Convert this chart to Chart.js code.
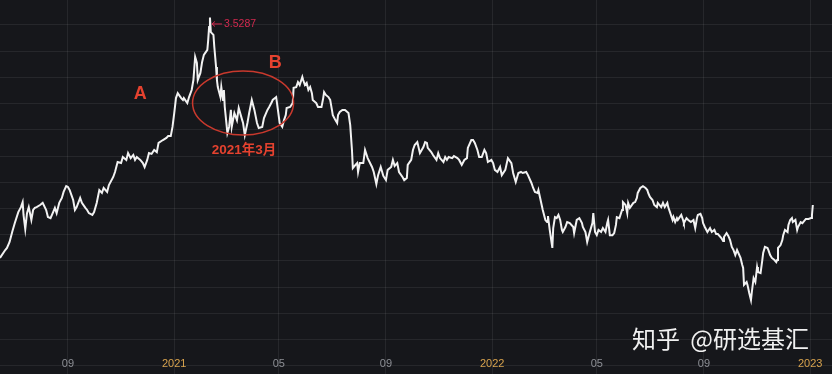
<!DOCTYPE html>
<html>
<head>
<meta charset="utf-8">
<script src="https://cdn.jsdelivr.net/npm/chart.js@4.4.1/dist/chart.umd.min.js"></script>
<style>
  html, body { margin: 0; padding: 0; background: #16171b; overflow: hidden; }
  #wrap { width: 832px; height: 374px; position: relative; }
  canvas { display: block; }
</style>
</head>
<body>
<div id="wrap"><canvas id="c" width="832" height="374"></canvas></div>
<script>
// ---------------- data ----------------
const dates2020 = ['2020-06-15','2020-06-21','2020-06-23','2020-06-26','2020-06-29',
  '2020-07-02','2020-07-06','2020-07-09','2020-07-11','2020-07-12','2020-07-14','2020-07-16','2020-07-18','2020-07-21','2020-07-23','2020-07-25','2020-07-27','2020-07-31',
  '2020-08-03','2020-08-07','2020-08-09','2020-08-12','2020-08-15','2020-08-17','2020-08-19','2020-08-22','2020-08-25','2020-08-27','2020-08-30',
  '2020-09-01','2020-09-03','2020-09-07','2020-09-09','2020-09-11','2020-09-15','2020-09-17','2020-09-21','2020-09-23','2020-09-25','2020-09-29',
  '2020-10-01','2020-10-04','2020-10-07','2020-10-10','2020-10-12','2020-10-16','2020-10-18','2020-10-23','2020-10-25','2020-10-28',
  '2020-11-01','2020-11-03','2020-11-07','2020-11-09','2020-11-12','2020-11-15','2020-11-17','2020-11-19','2020-11-23','2020-11-26','2020-11-28',
  '2020-12-01','2020-12-03','2020-12-06','2020-12-09','2020-12-12','2020-12-14','2020-12-19','2020-12-23','2020-12-25','2020-12-28','2020-12-30'];
const values2020 = [2.611,2.641,2.649,2.672,2.710,
  2.744,2.786,2.805,2.824,2.775,2.721,2.782,2.805,2.756,2.794,2.802,2.805,2.813,
  2.821,2.794,2.767,2.763,2.786,2.802,2.782,2.821,2.840,2.863,2.885,
  2.882,2.870,2.832,2.794,2.805,2.840,2.821,2.802,2.794,2.782,2.775,
  2.786,2.821,2.870,2.859,2.878,2.863,2.889,2.920,2.939,2.977,
  2.973,2.996,2.985,3.011,2.992,3.004,2.985,2.996,2.985,2.973,2.958,
  2.985,3.011,3.008,3.023,3.015,3.050,3.061,3.069,3.076,3.076,3.111];

const dates2021 = ['2021-01-01','2021-01-03','2021-01-05','2021-01-09','2021-01-11','2021-01-12','2021-01-16','2021-01-18','2021-01-21','2021-01-23','2021-01-25','2021-01-27','2021-01-28','2021-01-31',
  '2021-02-02','2021-02-04','2021-02-08','2021-02-09','2021-02-10','2021-02-11','2021-02-12','2021-02-15','2021-02-16','2021-02-18','2021-02-19','2021-02-20','2021-02-23','2021-02-24','2021-02-26','2021-02-27','2021-02-28',
  '2021-03-03','2021-03-05','2021-03-07','2021-03-08','2021-03-11','2021-03-14','2021-03-16','2021-03-20','2021-03-21','2021-03-23','2021-03-26','2021-03-28','2021-03-31',
  '2021-04-03','2021-04-06','2021-04-08','2021-04-12','2021-04-14','2021-04-18','2021-04-20','2021-04-23','2021-04-24','2021-04-28','2021-04-30',
  '2021-05-02','2021-05-05','2021-05-07','2021-05-09','2021-05-10','2021-05-14','2021-05-17','2021-05-18','2021-05-21','2021-05-23','2021-05-25','2021-05-28','2021-05-29','2021-05-31',
  '2021-06-02','2021-06-04','2021-06-06','2021-06-08','2021-06-09','2021-06-13','2021-06-15','2021-06-19','2021-06-21','2021-06-22','2021-06-24','2021-06-27','2021-06-29',
  '2021-07-01','2021-07-02','2021-07-05','2021-07-07','2021-07-08','2021-07-10','2021-07-13','2021-07-16','2021-07-20','2021-07-22','2021-07-24','2021-07-25','2021-07-28','2021-07-30','2021-07-31',
  '2021-08-02','2021-08-06','2021-08-08','2021-08-11','2021-08-16','2021-08-18','2021-08-21','2021-08-23','2021-08-26','2021-08-29',
  '2021-09-01','2021-09-03','2021-09-07','2021-09-09','2021-09-11','2021-09-14','2021-09-16','2021-09-20','2021-09-22','2021-09-25','2021-09-26','2021-09-30',
  '2021-10-02','2021-10-04','2021-10-07','2021-10-10','2021-10-14','2021-10-16','2021-10-18','2021-10-19','2021-10-23','2021-10-25','2021-10-29','2021-10-31',
  '2021-11-02','2021-11-06','2021-11-08','2021-11-10','2021-11-12','2021-11-16','2021-11-18','2021-11-22','2021-11-24','2021-11-27','2021-11-30',
  '2021-12-03','2021-12-04','2021-12-08','2021-12-10','2021-12-12','2021-12-15','2021-12-17','2021-12-20','2021-12-23','2021-12-25','2021-12-27','2021-12-31'];
const values2021 = [3.164,3.221,3.240,3.221,3.214,3.221,3.202,3.225,3.252,3.290,3.378,3.355,3.290,3.317,
  3.359,3.386,3.405,3.443,3.492,3.5287,3.473,3.462,3.416,3.340,3.290,3.263,3.225,3.263,3.214,3.252,3.187,
  3.088,3.111,3.176,3.111,3.164,3.137,3.183,3.137,3.126,3.080,3.126,3.164,3.214,
  3.176,3.126,3.107,3.111,3.145,3.176,3.187,3.206,3.214,3.225,3.176,
  3.126,3.111,3.137,3.156,3.183,3.187,3.202,3.260,3.263,3.282,3.271,3.302,3.290,3.271,
  3.279,3.252,3.263,3.240,3.214,3.202,3.187,3.187,3.221,3.244,3.233,3.225,3.214,
  3.176,3.156,3.137,3.126,3.156,3.168,3.176,3.176,3.164,3.118,3.023,2.954,2.966,2.973,2.939,
  2.973,2.973,3.023,2.992,2.958,2.939,2.893,2.927,2.958,2.924,
  2.908,2.947,2.958,2.985,2.962,2.973,2.939,2.920,2.908,2.916,2.966,2.985,
  3.023,3.042,3.053,3.011,3.034,3.053,3.050,3.031,3.015,3.004,2.985,3.011,
  2.992,2.977,2.996,2.985,2.996,2.992,3.000,2.992,2.985,2.966,2.985,
  2.992,3.031,3.061,3.061,3.050,3.023,2.996,2.996,3.023,3.011,2.977,2.985];

const dates2022 = ['2022-01-02','2022-01-04','2022-01-07','2022-01-10','2022-01-12','2022-01-16','2022-01-19','2022-01-23','2022-01-25','2022-01-28','2022-01-31',
  '2022-02-03','2022-02-05','2022-02-09','2022-02-11','2022-02-15','2022-02-17','2022-02-19','2022-02-22','2022-02-23','2022-02-25','2022-02-28',
  '2022-03-03','2022-03-05','2022-03-06','2022-03-08','2022-03-11','2022-03-12','2022-03-14','2022-03-16','2022-03-18','2022-03-20','2022-03-22','2022-03-23','2022-03-26','2022-03-28','2022-03-31',
  '2022-04-04','2022-04-05','2022-04-08','2022-04-11','2022-04-14','2022-04-15','2022-04-18','2022-04-20','2022-04-22','2022-04-26','2022-04-27','2022-04-29',
  '2022-05-01','2022-05-03','2022-05-06','2022-05-08','2022-05-11','2022-05-13','2022-05-14','2022-05-16','2022-05-19','2022-05-21','2022-05-23','2022-05-24','2022-05-27','2022-05-30','2022-05-31',
  '2022-06-03','2022-06-05','2022-06-06','2022-06-08','2022-06-12','2022-06-14','2022-06-16','2022-06-17','2022-06-20','2022-06-23','2022-06-26','2022-06-28','2022-06-29',
  '2022-07-01','2022-07-04','2022-07-06','2022-07-09','2022-07-10','2022-07-14','2022-07-16','2022-07-18','2022-07-21','2022-07-22','2022-07-24','2022-07-27','2022-07-28','2022-07-30',
  '2022-08-01','2022-08-02','2022-08-06','2022-08-08','2022-08-09','2022-08-12','2022-08-14','2022-08-17','2022-08-20','2022-08-22','2022-08-24','2022-08-25','2022-08-28','2022-08-30','2022-08-31',
  '2022-09-02','2022-09-05','2022-09-08','2022-09-10','2022-09-13','2022-09-15','2022-09-17','2022-09-21','2022-09-23','2022-09-24','2022-09-27','2022-09-29',
  '2022-10-01','2022-10-03','2022-10-05','2022-10-07','2022-10-09','2022-10-10','2022-10-13','2022-10-15','2022-10-16','2022-10-17','2022-10-20','2022-10-21','2022-10-23','2022-10-25','2022-10-26','2022-10-28','2022-10-30',
  '2022-11-01','2022-11-02','2022-11-05','2022-11-07','2022-11-08','2022-11-10','2022-11-13','2022-11-14','2022-11-16','2022-11-18','2022-11-21','2022-11-23','2022-11-24','2022-11-25','2022-11-28','2022-11-30',
  '2022-12-01','2022-12-03','2022-12-06','2022-12-07','2022-12-09','2022-12-11','2022-12-12','2022-12-15','2022-12-17','2022-12-18','2022-12-21','2022-12-23','2022-12-24','2022-12-27','2022-12-30'];
const values2022 = [2.973,2.947,2.939,2.958,2.927,2.947,2.992,2.973,2.935,2.901,2.935,
  2.939,2.935,2.939,2.927,2.897,2.878,2.863,2.859,2.870,2.840,2.794,
  2.756,2.748,2.771,2.718,2.649,2.725,2.767,2.763,2.775,2.756,2.718,2.710,2.729,2.748,2.744,
  2.729,2.706,2.756,2.763,2.744,2.729,2.710,2.672,2.698,2.744,2.782,2.710,
  2.698,2.718,2.710,2.725,2.710,2.744,2.756,2.698,2.698,2.706,2.737,2.767,2.763,2.794,2.824,
  2.813,2.782,2.821,2.802,2.821,2.824,2.840,2.859,2.878,2.885,2.878,2.870,2.859,
  2.844,2.832,2.813,2.805,2.821,2.805,2.821,2.805,2.821,2.805,2.786,2.756,2.767,2.748,
  2.763,2.756,2.775,2.756,2.744,2.763,2.756,2.748,2.756,2.725,2.763,2.775,2.779,2.763,2.744,
  2.729,2.710,2.725,2.710,2.718,2.702,2.702,2.687,2.676,2.691,2.706,2.695,
  2.679,2.653,2.641,2.622,2.641,2.641,2.611,2.584,2.573,2.508,2.519,2.508,2.477,2.450,2.481,2.534,2.519,
  2.576,2.557,2.553,2.603,2.630,2.653,2.649,2.641,2.622,2.611,2.603,2.595,2.603,2.649,2.660,2.679,
  2.698,2.718,2.710,2.737,2.756,2.763,2.748,2.756,2.718,2.729,2.748,2.744,2.748,2.760,2.760];

const dates2023 = ['2023-01-02','2023-01-03','2023-01-04'];
const values2023 = [2.763,2.775,2.813];

// axis ticks
const tickDates  = ['2020-09-01','2021-01-01','2021-05-01','2021-09-01','2022-01-01','2022-05-01','2022-09-01','2023-01-01'];
const tickLabels = ['09','2021','05','09','2022','05','09','2023'];
const gridValues = [2.2,2.3,2.4,2.5,2.6,2.7,2.8,2.9,3.0,3.1,3.2,3.3,3.4,3.5];
const axisStart = '2020-06-15';
const axisEnd   = '2023-01-26';

// annotation texts
const peakText   = '3.5287';
const markA      = 'A';
const markB      = 'B';
const markDate   = '2021年3月';
const watermarkSite = '知乎';
const watermarkUser = '@研选基汇';

// ---------------- build ----------------
const dayNum = s => { const [y, m, d] = s.split('-').map(Number); return Date.UTC(y, m - 1, d) / 86400000; };
const allDates  = [...dates2020, ...dates2021, ...dates2022, ...dates2023];
const allValues = [...values2020, ...values2021, ...values2022, ...values2023];
const n = Math.min(allDates.length, allValues.length);
const points = [];
for (let i = 0; i < n; i++) points.push({ x: dayNum(allDates[i]), y: allValues[i] });

const GRID = 'rgba(255,255,255,0.07)';

const bgPlugin = {
  id: 'bg',
  beforeDraw(chart) {
    const { ctx, width, height } = chart;
    ctx.save();
    ctx.fillStyle = '#16171b';
    ctx.fillRect(0, 0, width, height);
    ctx.restore();
  }
};

const overlayPlugin = {
  id: 'overlay',
  afterDraw(chart) {
    const { ctx } = chart;
    const xs = chart.scales.x, ys = chart.scales.y;
    ctx.save();

    // x tick labels
    ctx.font = '11px "Liberation Sans", Arial, sans-serif';
    ctx.textAlign = 'center';
    ctx.textBaseline = 'middle';
    tickDates.forEach((d, i) => {
      const lab = tickLabels[i];
      ctx.fillStyle = lab.length === 4 ? '#d8a34e' : '#8d8f95';
      ctx.fillText(lab, xs.getPixelForValue(dayNum(d)), 364);
    });

    // peak label
    let pi = 0;
    points.forEach((p, i) => { if (p.y > points[pi].y) pi = i; });
    const px = xs.getPixelForValue(points[pi].x);
    const py = ys.getPixelForValue(points[pi].y) + 6.5;
    ctx.strokeStyle = '#d3294f';
    ctx.fillStyle = '#d3294f';
    ctx.lineWidth = 1;
    ctx.beginPath();
    ctx.moveTo(px + 2, py); ctx.lineTo(px + 12, py);
    ctx.moveTo(px + 5, py - 2.5); ctx.lineTo(px + 2, py); ctx.lineTo(px + 5, py + 2.5);
    ctx.stroke();
    ctx.font = '10.5px "Liberation Sans", Arial, sans-serif';
    ctx.textAlign = 'left';
    ctx.textBaseline = 'middle';
    ctx.fillText(peakText, px + 14, py);

    // ellipse around March 2021
    const ex = xs.getPixelForValue(dayNum('2021-03-21'));
    const ey = ys.getPixelForValue(3.202);
    ctx.strokeStyle = '#c9392d';
    ctx.lineWidth = 1.5;
    ctx.beginPath();
    ctx.ellipse(ex, ey, 50.5, 32, 0, 0, Math.PI * 2);
    ctx.stroke();

    // A / B marks
    ctx.fillStyle = '#e5422f';
    ctx.font = 'bold 18px "Liberation Sans", Arial, sans-serif';
    ctx.textAlign = 'center';
    ctx.textBaseline = 'middle';
    ctx.fillText(markA, xs.getPixelForValue(dayNum('2020-11-23')), ys.getPixelForValue(3.236));
    ctx.fillText(markB, xs.getPixelForValue(dayNum('2021-04-27')), ys.getPixelForValue(3.355));

    // date mark
    ctx.font = 'bold 13.5px "Liberation Sans", "Noto Sans CJK SC", sans-serif';
    ctx.fillText(markDate, xs.getPixelForValue(dayNum('2021-03-22')), ys.getPixelForValue(3.023));

    // watermark
    ctx.fillStyle = '#f0f0f0';
    ctx.font = '24px "Noto Sans CJK SC", sans-serif';
    ctx.textBaseline = 'alphabetic';
    ctx.textAlign = 'left';
    ctx.fillText(watermarkSite, 632, 348);
    ctx.textAlign = 'right';
    ctx.fillText(watermarkUser, 809, 348);

    ctx.restore();
  }
};

new Chart(document.getElementById('c').getContext('2d'), {
  type: 'line',
  data: {
    datasets: [{
      data: points,
      borderColor: '#f2f2f2',
      borderWidth: 2,
      pointRadius: 0,
      tension: 0,
      fill: false
    }]
  },
  options: {
    responsive: false,
    animation: false,
    devicePixelRatio: 1,
    layout: { padding: 0 },
    plugins: { legend: { display: false }, tooltip: { enabled: false } },
    scales: {
      x: {
        type: 'linear',
        min: dayNum(axisStart),
        max: dayNum(axisEnd),
        afterBuildTicks: s => { s.ticks = tickDates.map(d => ({ value: dayNum(d) })); },
        ticks: { display: false },
        grid: { color: GRID, drawTicks: false, lineWidth: 1 },
        border: { display: false }
      },
      y: {
        type: 'linear',
        min: 2.168,
        max: 3.5954,
        afterBuildTicks: s => { s.ticks = gridValues.map(v => ({ value: v })); },
        ticks: { display: false },
        grid: { color: GRID, drawTicks: false, lineWidth: 1 },
        border: { display: false }
      }
    }
  },
  plugins: [bgPlugin, overlayPlugin]
});
</script>
</body>
</html>
